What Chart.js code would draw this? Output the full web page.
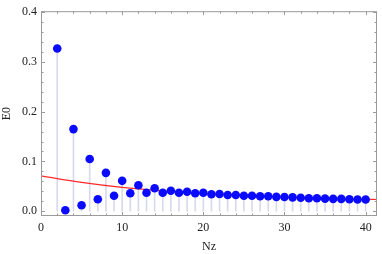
<!DOCTYPE html>
<html>
<head>
<meta charset="utf-8">
<script src="https://cdn.jsdelivr.net/npm/chart.js@4"></script>
<style>
  html, body { margin: 0; padding: 0; background: #fff; }
  #wrap { width: 382px; height: 254px; }
</style>
</head>
<body>
<div id="wrap"><canvas id="grafico"></canvas></div>
<script>
// data
const nz = [2,3,4,5,6,7,8,9,10,11,12,13,14,15,16,17,18,19,20,21,22,23,24,25,26,27,28,29,30,31,32,33,34,35,36,37,38,39,40];
const e0 = [0.327,0.002,0.165,0.012,0.105,0.024,0.077,0.031,0.061,0.036,0.052,0.037,0.046,0.037,0.041,0.037,0.039,0.036,0.037,0.034,
            0.0345,0.0325,0.0325,0.031,0.031,0.030,0.030,0.0287,0.0285,0.0278,0.027,0.026,0.026,0.0253,0.0248,0.0247,0.024,0.0235,0.0234];
// fitted red curve
const fitX = [0, 5, 10, 15, 20, 25, 30, 35, 40, 41.4];
const fitY = [0.071, 0.058, 0.048, 0.041, 0.0355, 0.0315, 0.0285, 0.026, 0.024, 0.0235];
const xTicks = [0, 10, 20, 30, 40];
const yTicks = [0.0, 0.1, 0.2, 0.3, 0.4];

const frameColor = '#9a9a9a';
const textColor = '#222';
const serif = 'Liberation Serif, Times New Roman, serif';

// frame with inward ticks, Mathematica style
const frameTicks = {
  id: 'frameTicks',
  afterDraw(chart) {
    const { ctx, chartArea: a, scales: { x, y } } = chart;
    ctx.save();
    ctx.strokeStyle = frameColor;
    ctx.lineWidth = 1;
    ctx.strokeRect(a.left + 0.5, a.top + 0.5, a.right - a.left - 1, a.bottom - a.top - 1);
    ctx.beginPath();
    for (let v = 0; v <= 40; v += 2) {
      const px = Math.round(x.getPixelForValue(v)) + 0.5;
      const len = v % 10 === 0 ? 4 : 2.5;
      ctx.moveTo(px, a.bottom); ctx.lineTo(px, a.bottom - len);
      ctx.moveTo(px, a.top); ctx.lineTo(px, a.top + len);
    }
    for (let i = 0; i <= 20; i++) {
      const py = Math.round(y.getPixelForValue(i * 0.02)) + 0.5;
      const len = i % 5 === 0 ? 4 : 2.5;
      ctx.moveTo(a.left, py); ctx.lineTo(a.left + len, py);
      ctx.moveTo(a.right, py); ctx.lineTo(a.right - len, py);
    }
    ctx.stroke();
    ctx.restore();
  }
};

const punti = nz.map((n, i) => ({ x: n, y: e0[i] }));
const curva = fitX.map((n, i) => ({ x: n, y: fitY[i] }));

new Chart(document.getElementById('grafico'), {
  type: 'bar',
  data: {
    datasets: [
      { type: 'scatter', data: punti, backgroundColor: '#0a0aff', borderWidth: 0, pointRadius: 4.3, order: 0 },
      { type: 'line', data: curva, borderColor: '#ff2a2a', borderWidth: 1.2, pointRadius: 0, fill: false,
        cubicInterpolationMode: 'monotone', order: 1 },
      { type: 'bar', data: punti, backgroundColor: '#d9d9ee', barThickness: 1, order: 2 }
    ]
  },
  plugins: [frameTicks],
  options: {
    responsive: true, maintainAspectRatio: false, animation: false,
    layout: { padding: { top: 5, right: 5, left: 0, bottom: 0 } },
    plugins: { legend: { display: false }, tooltip: { enabled: false } },
    scales: {
      x: {
        type: 'linear', min: 0, max: 41.4, offset: false,
        afterFit: (s) => { s.height = 38; },
        afterBuildTicks: (s) => { s.ticks = xTicks.map(v => ({ value: v })); },
        grid: { display: false, drawTicks: false },
        border: { display: false },
        ticks: { color: textColor, padding: 5, font: { family: serif, size: 12 }, maxRotation: 0 },
        title: { display: true, text: 'Nz', color: textColor, padding: 0, font: { family: serif, size: 12 } }
      },
      y: {
        min: -0.0097, max: 0.402,
        afterFit: (s) => { s.width = 41; },
        afterBuildTicks: (s) => { s.ticks = yTicks.map(v => ({ value: v })); },
        grid: { display: false, drawTicks: false },
        border: { display: false },
        ticks: { color: textColor, padding: 4, font: { family: serif, size: 12 }, callback: (v) => v.toFixed(1) },
        title: { display: true, text: 'E0', color: textColor, padding: 0, font: { family: serif, size: 12 } }
      }
    }
  }
});
</script>
</body>
</html>
